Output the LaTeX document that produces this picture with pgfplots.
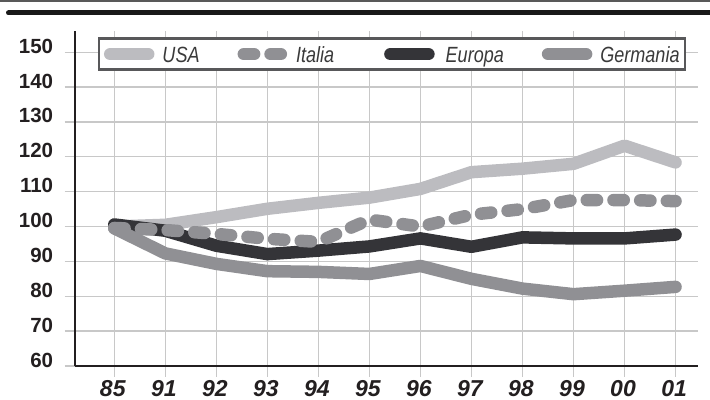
\documentclass[border=0pt]{standalone}
\usepackage{graphicx}
\usepackage{pgfplots}
\pgfplotsset{compat=1.18}
\usepackage{fontspec}
\setmainfont{Liberation Sans}
\newcommand{\legtxt}[1]{\scalebox{0.82}[1]{#1}}
\definecolor{cusa}{HTML}{BCBCC0}
\definecolor{cita}{HTML}{909094}
\definecolor{ceur}{HTML}{343438}
\definecolor{cger}{HTML}{909094}
\definecolor{cgrid}{HTML}{C8C8C8}
\definecolor{caxis}{HTML}{231F20}
\definecolor{cbox}{HTML}{58585A}
\definecolor{ctext}{HTML}{3A3A3A}
\begin{document}
\begin{tikzpicture}
\path[use as bounding box] (0bp,0bp) rectangle (710bp,400bp);
\fill[black!65] (0bp,398bp) rectangle (710bp,400bp);
\draw[line width=5bp, line cap=round, color=black!90] (8.5bp,387bp) -- (716bp,387bp);
\begin{axis}[
  at={(75bp,34bp)}, anchor=south west,
  scale only axis, width=623bp, height=335bp,
  xmin=-0.77, xmax=11.44, ymin=60, ymax=156.1,
  axis x line=bottom, axis y line=left,
  axis line style={caxis, line width=2.7bp, -},
  xtick={0,...,11}, xticklabels={85,91,92,93,94,95,96,97,98,99,00,01},
  ytick={60,70,...,150}, yticklabels={60,70,80,90,100,110,120,130,140,150},
  grid=major, major grid style={cgrid, line width=1.3bp},
  tick align=outside, major tick length=10.5bp, tick style={cgrid, line width=1.3bp},
  yticklabel style={font=\bfseries\fontsize{20.5bp}{22bp}\selectfont, text=caxis, anchor=base east, inner sep=0pt, xshift=-11.2bp, yshift=-1bp},
  xticklabel style={font=\bfseries\itshape\fontsize{23bp}{25bp}\selectfont, text=caxis, anchor=base, inner sep=0pt, yshift=-19.8bp, xshift=-1.5bp},
  legend columns=4,
  legend style={at={(0.0382,0.977)}, anchor=north west, draw=cbox, line width=2.5bp, fill=white, outer sep=0pt,
    inner xsep=5.2bp, inner ysep=5bp, text=ctext,
    font=\itshape\fontsize{22bp}{24bp}\selectfont,
    nodes={inner sep=0pt, text height=18.5bp, text depth=2.5bp},
    cells={inner sep=0pt},
    /tikz/every odd column/.style={column sep=8bp},
    /tikz/every even column/.style={column sep=38bp}},
  legend image code/.code={\draw[#1] (6.5bp,0bp) -- (44.5bp,0bp); \path (7.3bp,0bp) (43.7bp,0bp);},
  every axis plot/.append style={line width=12.5bp, line cap=round, line join=round},
]
\addlegendimage{cusa, line width=12.5bp, line cap=round}
\addlegendentry{\legtxt{USA}}
\addlegendimage{cita, line width=12.5bp, line cap=round, dash pattern=on 10.3bp off 16.4bp}
\addlegendentry{\legtxt{Italia}\kern12bp}
\addlegendimage{ceur, line width=12.5bp, line cap=round}
\addlegendentry{\kern3bp\legtxt{Europa}}
\addlegendimage{cger, line width=12.5bp, line cap=round}
\addlegendentry{\legtxt{Germania}}

\addplot[cusa, forget plot] coordinates {(0,100) (1,100.5) (2,102.7) (3,105.1) (4,106.8) (5,108.3) (6,110.8) (7,115.6) (8,116.6) (9,118) (10,123.2) (11,118.4)};
\addplot[ceur, forget plot] coordinates {(0,100.6) (1,98.8) (2,94.5) (3,92.1) (4,93.1) (5,94.3) (6,96.6) (7,94.2) (8,96.9) (9,96.6) (10,96.6) (11,97.7)};
\addplot[cger, forget plot] coordinates {(0,99.5) (1,92.3) (2,89.3) (3,87.2) (4,87) (5,86.4) (6,88.7) (7,85) (8,82.2) (9,80.6) (10,81.6) (11,82.7)};
\addplot[cita, forget plot, dash pattern=on 10.3bp off 16.4bp] coordinates {(0,99.6) (1,99) (2,97.9) (3,96.5) (4,95.6) (5,102) (6,100) (7,103.4) (8,105) (9,107.6) (10,107.6) (11,107.3)};
\end{axis}
\end{tikzpicture}
\end{document}
